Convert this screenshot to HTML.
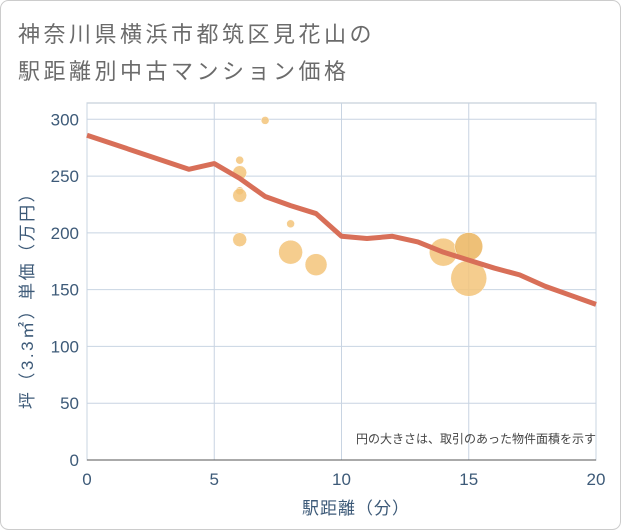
<!DOCTYPE html>
<html><head><meta charset="utf-8"><style>
body{margin:0;background:#fff}
svg{display:block;font-family:"Liberation Sans","Noto Sans CJK JP",sans-serif}
</style></head><body>
<svg id="chart" width="621" height="530">
<rect x="0.5" y="0.5" width="620" height="529" rx="8" fill="#fff" stroke="#ccc"/>
<text x="18" y="42" font-size="22" letter-spacing="3.5" fill="#6b6b6b">神奈川県横浜市都筑区見花山の</text>
<text x="18" y="79" font-size="22" letter-spacing="3.5" fill="#6b6b6b">駅距離別中古マンション価格</text>
<g id="grid"></g>
<g id="marks"></g>
<text x="596" y="443" font-size="12" fill="#444" text-anchor="end">円の大きさは、取引のあった物件面積を示す</text>
<text x="356" y="514" font-size="17" letter-spacing="1" fill="#3d5a78" text-anchor="middle">駅距離（分）</text>
<text transform="translate(33,296) rotate(-90)" font-size="17" letter-spacing="2.5" fill="#3d5a78" text-anchor="middle">坪（3.3㎡）単価（万円）</text>
</svg>
<script>
const xTicks=[0,5,10,15,20];
const yTicks=[0,50,100,150,200,250,300];
const lineX=[0,4,5,6,7,8,9,10,11,12,13,14,15,16,17,18,19,20];
const lineY=[286,256,261,248,232,224,217,197,195,197,192,183,176,169,163,153,145,137];
const bubX=[7,6,6,6,6,8,6,8,9,14,15,15];
const bubY=[299,264,253,237,233,208,194,183,172,183,188,160];
const bubR=[4,4,7,4,7,4,7,12,11,14,14,18];
const bubDark=[0,0,0,1,0,0,0,0,0,0,1,0];
const L=87,R=596,T=103,B=460;
const sx=v=>L+(R-L)*v/20;
const sy=v=>B-(B-119.3)*v/300;
const NS="http://www.w3.org/2000/svg";
const grid=document.getElementById('grid'),marks=document.getElementById('marks');
function mk(tag,at,parent){const e=document.createElementNS(NS,tag);for(const k in at)e.setAttribute(k,at[k]);parent.appendChild(e);return e;}
const frame=mk('rect',{x:L,y:T,width:R-L,height:B-T,fill:'none',stroke:'#b8c4d0'},grid);


yTicks.forEach(v=>{
  const l=mk('line',{x1:L,x2:R,y1:sy(v),y2:sy(v),stroke:'#c8d4e2'},grid);
  
  
  const t=mk('text',{x:L-8,y:sy(v)+6,'font-size':17,fill:'#3d5a78','text-anchor':'end'},grid);
  t.textContent=v;
  
  
});
xTicks.forEach(v=>{
  const l=mk('line',{x1:sx(v),x2:sx(v),y1:T,y2:B,stroke:'#c8d4e2'},grid);
  
  
  const t=mk('text',{x:sx(v),y:B+25,'font-size':17,fill:'#3d5a78','text-anchor':'middle'},grid);
  t.textContent=v;
  
  
});
const ax=mk('line',{x1:L,x2:R,y1:B,y2:B,stroke:'#555'},grid);


bubX.forEach((x,i)=>{
  const c=mk('circle',{cx:sx(x),cy:sy(bubY[i]),r:bubR[i],fill:bubDark[i]?'#ebb55f':'#f3c47a','fill-opacity':0.85,stroke:'#fff','stroke-width':0.5},marks);
  
  
});
const pts=lineX.map((x,i)=>sx(x)+','+sy(lineY[i])).join(' ');
const pl=mk('polyline',{points:pts,fill:'none',stroke:'#d86f58','stroke-width':5,'stroke-linejoin':'round'},marks);


</script>
</body></html>
